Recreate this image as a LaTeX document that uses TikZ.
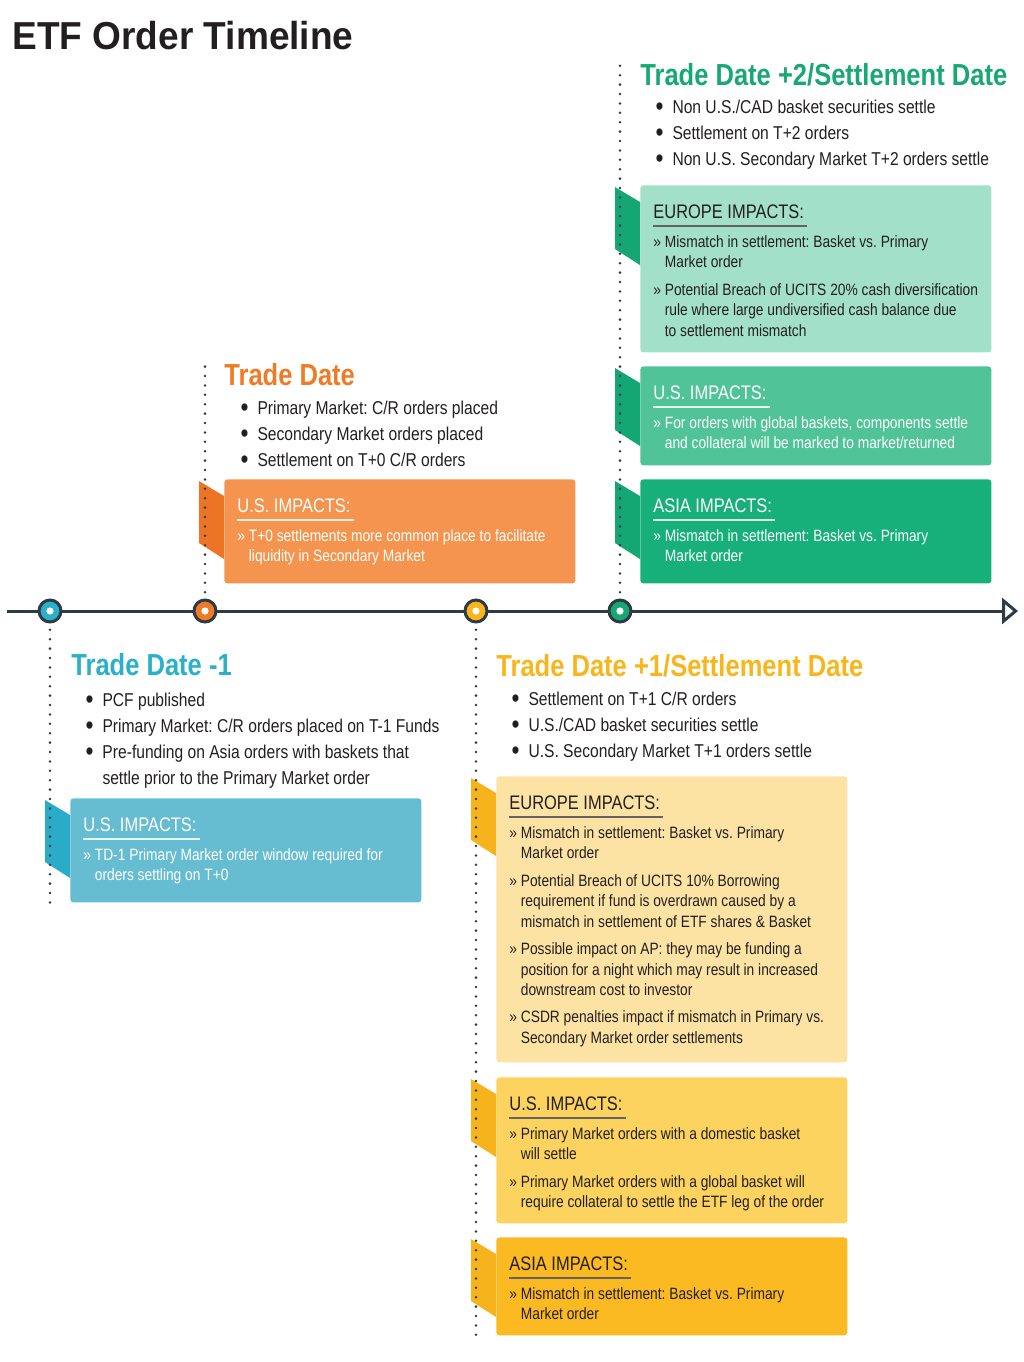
\documentclass[tikz,border=0pt]{standalone}
\usepackage{fontspec}
\setmainfont{Liberation Sans}[FakeStretch=0.84]
\newfontfamily\titlefont{Liberation Sans}[FakeStretch=0.95]
\usepackage{xcolor}
\usepackage{tikz}
\usetikzlibrary{positioning,calc,arrows.meta}

\definecolor{axisgray}{HTML}{2E3A45}
\definecolor{inkgray}{HTML}{231F20}
\definecolor{tealhead}{HTML}{2BB0C9}
\definecolor{tealbox}{HTML}{66BDD2}
\definecolor{tealtab}{HTML}{2AACC8}
\definecolor{orangehead}{HTML}{F07B26}
\definecolor{orangebox}{HTML}{F5944F}
\definecolor{orangetab}{HTML}{EE7425}
\definecolor{yellowhead}{HTML}{F8B61C}
\definecolor{yelloweu}{HTML}{FDE3A3}
\definecolor{yellowus}{HTML}{FCD35F}
\definecolor{yellowasia}{HTML}{FBBA22}
\definecolor{yellowtab}{HTML}{F6B31B}
\definecolor{greenhead}{HTML}{18A874}
\definecolor{greeneu}{HTML}{A3E0CA}
\definecolor{greenus}{HTML}{50C497}
\definecolor{greenasia}{HTML}{17B07A}
\definecolor{greentab}{HTML}{14A673}

\tikzstyle{dotline} = [axisgray, line width=1.4pt, line cap=round, dash pattern=on 0pt off 4.7pt]

\newcommand{\ind}{\hphantom{» }}
\newcommand{\bul}{\makebox[8.4pt][l]{\raisebox{-0.9pt}{\fontsize{13.5}{13}\selectfont•}}}
\newcommand{\bulind}{\hspace*{8.4pt}}

% name, corner, height, fill, tab, text, rule, header, body
\newcommand{\impact}[9]{%
    \node[impactbox, fill=#4, minimum height=#3*0.5pt, anchor=north west] (#1) at (#2) {};
    \fill[#5] ($(#1.north west)+(-25,2)$) -- ($(#1.north west)+(0,17)$)
        -- ($(#1.north west)+(0,80)$) -- ($(#1.north west)+(-25,64)$) -- cycle;
    \node[impacthead, text=#6, anchor=base west] (#1-h)
        at ($(#1.north west)+(13,33)$) {#8};
    \draw[#7, line width=1pt] ($(#1-h.base west)+(0,8)$) -- ($(#1-h.base east)+(3,8)$);
    \node[impacttext, text=#6, anchor=north west] (#1-t)
        at ($(#1.north west)+(13,50)$) {#9};
}

\begin{document}
\frenchspacing
\begin{tikzpicture}[
        x=0.5pt, y=-0.5pt,
        impactbox/.style={
            rectangle,
            rounded corners=1.5pt,
            minimum width=175.5pt,
            inner sep=0pt
        },
        impacthead/.style={inner sep=0pt, font=\fontsize{9.8}{11}\selectfont},
        impacttext/.style={inner sep=0pt, align=left, font=\fontsize{8.2}{10.3}\selectfont},
        bullets/.style={inner sep=0pt, align=left, text=inkgray, font=\fontsize{9.3}{13}\selectfont},
        datehead/.style={inner sep=0pt, font=\bfseries\fontsize{15.2}{18}\selectfont},
        marker/.style={circle, draw=axisgray, line width=1.5pt, minimum size=11pt, inner sep=0pt},
        axis/.style={axisgray, line width=1.5pt, -{Triangle[open, length=8pt, width=13pt]}}
    ]
    \useasboundingbox (0,0) rectangle (1024,1362);

    \node[anchor=base west, inner sep=0pt, text=inkgray,
        font=\titlefont\bfseries\fontsize{19.5}{22}\selectfont] (title)
        at (12,49) {ETF Order Timeline};

    % timeline
    \coordinate (axstart) at (7,611);
    \coordinate (axend) at (1018,611);
    \draw[axis] (axstart) -- (axend);

    % impact boxes
    \impact{tdm1-us}{70,798}{104}{tealbox}{tealtab}{white}{white!85!tealbox}
        {U.S. IMPACTS:}
        {» TD-1 Primary Market order window required for\\
         \ind orders settling on T+0};

    \impact{td-us}{224,479}{104}{orangebox}{orangetab}{white}{white!85!orangebox}
        {U.S. IMPACTS:}
        {» T+0 settlements more common place to facilitate\\
         \ind liquidity in Secondary Market};

    \impact{tdp1-eu}{496,776}{286}{yelloweu}{yellowtab}{inkgray}{inkgray!70}
        {EUROPE IMPACTS:}
        {» Mismatch in settlement: Basket vs. Primary\\
         \ind Market order\\[3.3pt]
         » Potential Breach of UCITS 10\% Borrowing\\
         \ind requirement if fund is overdrawn caused by a\\
         \ind mismatch in settlement of ETF shares \& Basket\\[3.3pt]
         » Possible impact on AP: they may be funding a\\
         \ind position for a night which may result in increased\\
         \ind downstream cost to investor\\[3.3pt]
         » CSDR penalties impact if mismatch in Primary vs.\\
         \ind Secondary Market order settlements};

    \impact{tdp1-us}{496,1077}{146}{yellowus}{yellowtab}{inkgray}{inkgray!70}
        {U.S. IMPACTS:}
        {» Primary Market orders with a domestic basket\\
         \ind will settle\\[3.3pt]
         » Primary Market orders with a global basket will\\
         \ind require collateral to settle the ETF leg of the order};

    \impact{tdp1-asia}{496,1237}{98}{yellowasia}{yellowtab}{inkgray}{inkgray!70}
        {ASIA IMPACTS:}
        {» Mismatch in settlement: Basket vs. Primary\\
         \ind Market order};

    \impact{tdp2-eu}{640,185}{167}{greeneu}{greentab}{inkgray}{inkgray!70}
        {EUROPE IMPACTS:}
        {» Mismatch in settlement: Basket vs. Primary\\
         \ind Market order\\[3.3pt]
         » Potential Breach of UCITS 20\% cash diversification\\
         \ind rule where large undiversified cash balance due\\
         \ind to settlement mismatch};

    \impact{tdp2-us}{640,366}{99}{greenus}{greentab}{white}{white!85!greenus}
        {U.S. IMPACTS:}
        {» For orders with global baskets, components settle\\
         \ind and collateral will be marked to market/returned};

    \impact{tdp2-asia}{640,479}{104}{greenasia}{greentab}{white}{white!85!greenasia}
        {ASIA IMPACTS:}
        {» Mismatch in settlement: Basket vs. Primary\\
         \ind Market order};

    % dotted drop lines
    \coordinate (tdm1-end) at (50,905);
    \coordinate (td-end) at (205,365);
    \coordinate (tdp1-end) at (476,1340);
    \coordinate (tdp2-end) at (620,62);
    \draw[dotline] (50,611) -- (tdm1-end);
    \draw[dotline] (205,611) -- (td-end);
    \draw[dotline] (476,611) -- (tdp1-end);
    \draw[dotline] (620,611) -- (tdp2-end);

    % markers
    \foreach \mx/\mc/\mn in {50/tealhead/tdm1, 205/orangehead/td,
                             476/yellowhead/tdp1, 620/greenhead/tdp2} {
        \node[marker, fill=\mc] (\mn) at (\mx,611) {};
        \fill[white] (\mn.center) circle[radius=1.8pt];
    }

    % trade date -1
    \node[datehead, text=tealhead, anchor=base west] (tdm1-title)
        at (71,675) {Trade Date -1};
    \node[bullets, anchor=north west] (tdm1-list) at (85.3,692.4)
        {\bul PCF published\\
         \bul Primary Market: C/R orders placed on T-1 Funds\\
         \bul Pre-funding on Asia orders with baskets that\\
         \bulind settle prior to the Primary Market order};

    % trade date
    \node[datehead, text=orangehead, anchor=base west] (td-title)
        at (224,385) {Trade Date};
    \node[bullets, anchor=north west] (td-list) at (240.3,400.7)
        {\bul Primary Market: C/R orders placed\\
         \bul Secondary Market orders placed\\
         \bul Settlement on T+0 C/R orders};

    % trade date +1
    \node[datehead, text=yellowhead, anchor=base west] (tdp1-title)
        at (496,676) {Trade Date +1/Settlement Date};
    \node[bullets, anchor=north west] (tdp1-list) at (511.3,691.7)
        {\bul Settlement on T+1 C/R orders\\
         \bul U.S./CAD basket securities settle\\
         \bul U.S. Secondary Market T+1 orders settle};

    % trade date +2
    \node[datehead, text=greenhead, anchor=base west] (tdp2-title)
        at (640,85) {Trade Date +2/Settlement Date};
    \node[bullets, anchor=north west] (tdp2-list) at (655.3,99.7)
        {\bul Non U.S./CAD basket securities settle\\
         \bul Settlement on T+2 orders\\
         \bul Non U.S. Secondary Market T+2 orders settle};

\end{tikzpicture}
\end{document}
